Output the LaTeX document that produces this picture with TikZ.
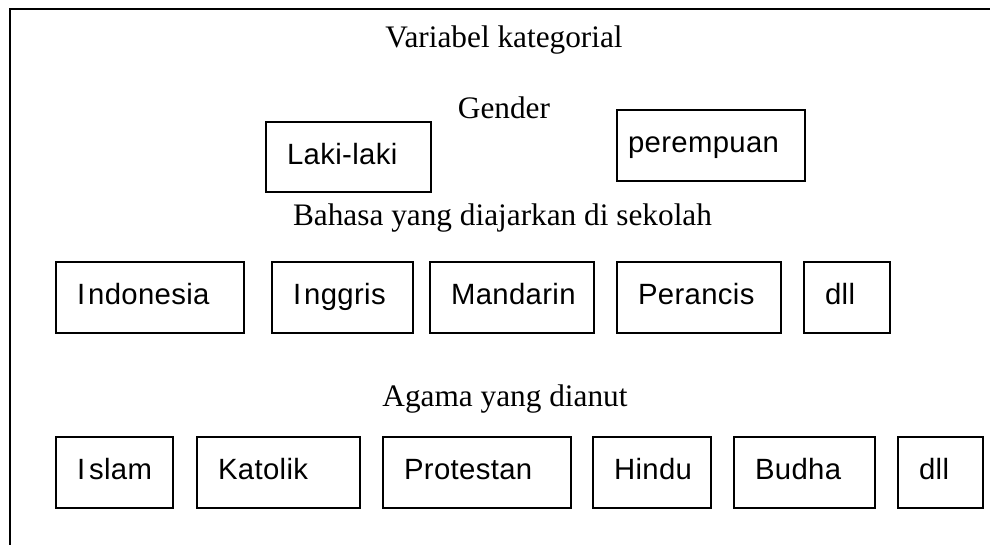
\documentclass[tikz,border=0pt]{standalone}
\usepackage{fontspec}
\setmainfont{Liberation Serif}
\newfontfamily\kotakfont[LetterSpace=1.2]{Liberation Sans}

\tikzset{
  kotak/.style={draw,line width=1.2pt,inner ysep=0pt,inner xsep=21pt,align=left,
    text height=21pt,text depth=7pt,minimum height=71pt,
    font=\kotakfont\fontsize{29.3}{34}\selectfont},
  judul/.style={anchor=base,inner sep=0pt,font=\fontsize{31.3}{37}\selectfont}
}

\begin{document}
\begin{tikzpicture}[x=1pt,y=-1pt]
\useasboundingbox (0,0) rectangle (990,544);

\draw [line width=1.3pt](10,560) -- (10,9) -- (1000,9);

\node[judul] (judul) at (504,47) {Variabel kategorial};
\node[judul] (gender) at (504,118) {Gender};
\node[judul] (bahasa) at (502.5,225) {Bahasa yang diajarkan di sekolah};
\node[judul] (agama) at (505,406) {Agama yang dianut};

\node[kotak,text width=123pt,minimum height=70pt] (laki) at (348.5,157) {Laki-laki};
\node[kotak,text width=166pt,inner xsep=11pt] (perempuan) at (711,145.5) {perempuan};

\node[kotak,text width=146pt] (indonesia) at (150,297.5) {I\kern3pt ndonesia};
\node[kotak,text width=99pt] (inggris) at (342.5,297.5) {I\kern3pt nggris};
\node[kotak,text width=122pt] (mandarin) at (512,297.5) {Mandarin};
\node[kotak,text width=122pt] (perancis) at (699,297.5) {Perancis};
\node[kotak,text width=44pt] (dllbahasa) at (847,297.5) {dll};

\node[kotak,text width=75pt] (islam) at (114.5,472.5) {I\kern4pt slam};
\node[kotak,text width=121pt] (katolik) at (278.5,472.5) {Katolik};
\node[kotak,text width=146pt] (protestan) at (477,472.5) {Protestan};
\node[kotak,text width=76pt] (hindu) at (652,472.5) {Hindu};
\node[kotak,text width=99pt] (budha) at (804.5,472.5) {Budha};
\node[kotak,text width=43pt] (dllagama) at (940.5,472.5) {dll};

\end{tikzpicture}
\end{document}
